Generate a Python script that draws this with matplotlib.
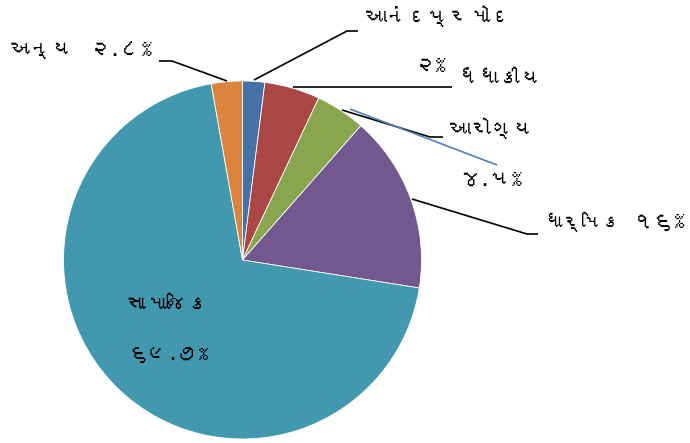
import matplotlib
matplotlib.use("Agg")
import matplotlib.pyplot as plt
from matplotlib import font_manager
from matplotlib.ft2font import FT2Font

# ---- data ----
categories = ["આનંદપ્રમોદ", "ધંધાકીય", "આરોગ્ય", "ધાર્મિક", "સામાજિક", "અન્ય"]
values = [2.0, 5.0, 4.5, 16.0, 69.7, 2.8]
value_labels = ["૨%", "૫%", "૪.૫%", "૧૬%", "૬૯.૭%", "૨.૮%"]
colors = ["#4572A7", "#AA4643", "#89A54E", "#71588F", "#4198AF", "#DB843D"]

# find a font with Gujarati glyphs, if any
guj_font = None
for path in sorted(font_manager.findSystemFonts()):
    try:
        f = FT2Font(path)
        cm = f.get_charmap()
        if 0x0A97 in cm and 0x0AAE in cm:
            guj_font = font_manager.FontProperties(fname=path).get_name()
            break
    except Exception:
        pass
families = ([guj_font] if guj_font else []) + ["Noto Sans", "DejaVu Sans"]
plt.rcParams["font.family"] = families

W, H = 690, 443
fig = plt.figure(figsize=(W / 100, H / 100), dpi=100)
ax = fig.add_axes([0, 0, 1, 1])

cx, cy, r = 242.5, H - 260, 179
ax.pie(values, colors=colors, startangle=90, counterclock=False,
       center=(cx, cy), radius=r, frame=True,
       wedgeprops=dict(linewidth=0.6, edgecolor="white"))
ax.set_xlim(0, W)
ax.set_ylim(0, H)
ax.set_aspect("equal")
ax.axis("off")

renderer = fig.canvas.get_renderer()
fs = 15

def Y(py):
    return H - py

def line(pts, color="black", lw=1.2):
    xs = [p[0] for p in pts]
    ys = [Y(p[1]) for p in pts]
    ax.plot(xs, ys, color=color, lw=lw, solid_capstyle="butt")

def label(x, y, s, ha, maxw):
    t = ax.text(x, Y(y), s, fontsize=fs, ha=ha, va="center", color="black")
    w = t.get_window_extent(renderer).width
    if w > maxw:
        t.set_fontsize(fs * maxw / w)
    return t

# આનંદપ્રમોદ
line([(254, 80), (347, 31), (358, 31)])
label(365, 16, categories[0], "left", 150)
label(430, 66, value_labels[0], "center", 40)
# ધંધાકીય
line([(293, 87), (452, 87)])
label(458, 79, categories[1], "left", 105)
# આરોગ્ય
line([(342, 110), (430, 137), (443, 137)])
line([(350, 109), (497, 165)], color="#4F81BD", lw=1.2)
label(449, 128, categories[2], "left", 100)
label(490, 180, value_labels[2], "center", 70)
# ધાર્મિક
line([(412, 199), (527, 234), (538, 234)])
label(543, 222, categories[3], "left", 78)
label(685, 222, value_labels[3], "right", 60)
# સામાજિક
label(167, 305, categories[4], "center", 110)
label(168, 355, value_labels[4], "center", 80)
# અન્ય
line([(227, 81), (172, 61), (159, 61)])
label(10, 50, categories[5], "left", 66)
label(152, 50, value_labels[5], "right", 66)

fig.savefig("out.png", dpi=100)
